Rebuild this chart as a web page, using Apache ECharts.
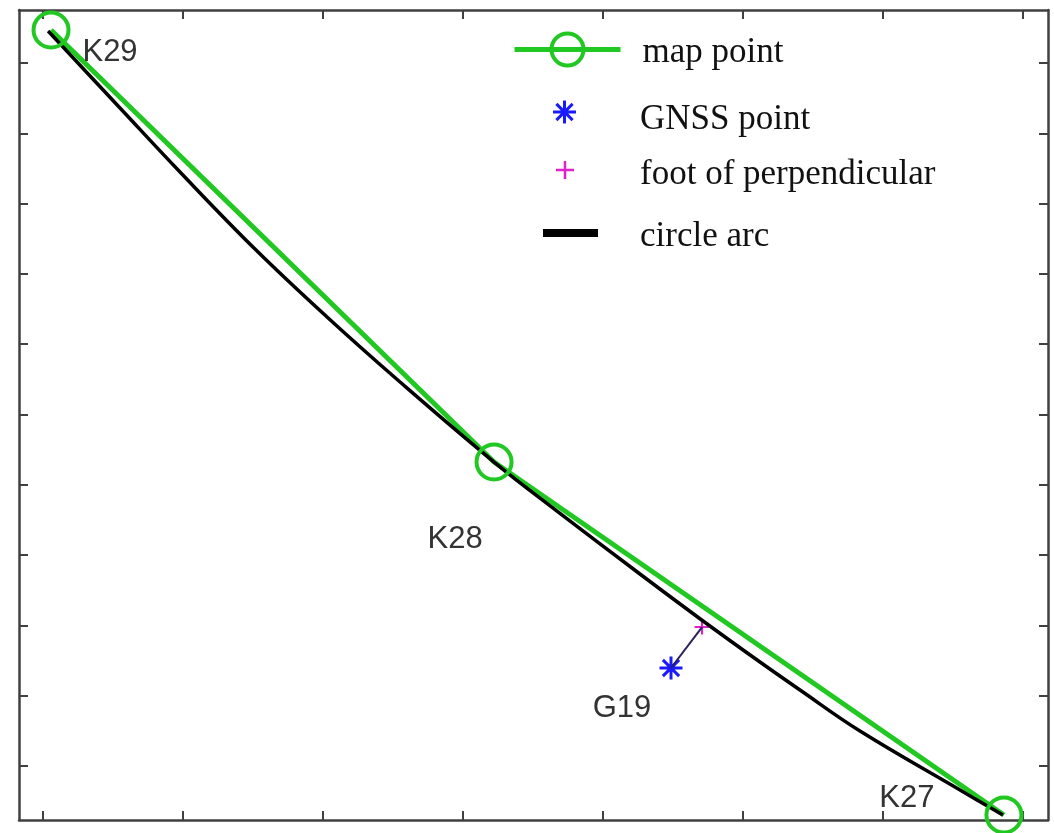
<!DOCTYPE html>
<html><head><meta charset="utf-8">
<script src="https://cdn.jsdelivr.net/npm/echarts@6/dist/echarts.min.js"></script>
<style>html,body{margin:0;padding:0;background:#fff}#c{width:1054px;height:833px}</style>
</head><body><div id="c"></div>
<script>
// ---- data ----
const mapNames = ['K29', 'K28', 'K27'];
const mapX = [0.057, 3.224, 6.869];
const mapY = [10.469, 4.324, -0.697];

const arcX = [0.036, 0.550, 0.979, 1.515, 2.030, 2.552, 3.224, 3.674, 4.267, 4.718, 5.125, 5.411, 5.840, 6.555, 6.862];
const arcY = [10.455, 9.360, 8.449, 7.354, 6.387, 5.462, 4.324, 3.627, 2.731, 2.063, 1.479, 1.081, 0.498, -0.341, -0.697];

const gnssNames = ['G19'];
const gnssX = [4.489];
const gnssY = [1.394];

const footX = [4.711];
const footY = [1.977];

const xTicks = [0, 1, 2, 3, 4, 5, 6, 7];
const yTicks = [0, 1, 2, 3, 4, 5, 6, 7, 8, 9, 10];

// ---- styling / layout ----
const STAR = 'path://M -1 -0.13 L 1 -0.13 L 1 0.13 L -1 0.13 Z M -0.13 -1 L 0.13 -1 L 0.13 1 L -0.13 1 Z M -0.615 -0.799 L 0.799 0.615 L 0.615 0.799 L -0.799 -0.615 Z M -0.799 0.615 L 0.615 -0.799 L 0.799 -0.615 L -0.615 0.799 Z';
const PLUS = 'path://M -1 -0.14 L 1 -0.14 L 1 0.14 L -1 0.14 Z M -0.14 -1 L 0.14 -1 L 0.14 1 L -0.14 1 Z';
const GREEN = '#22c822';
const mapLabelOffsets = [[59, 22], [-39, 77], [-97, -17]];
const gnssLabelOffsets = [[-49, 40]];
const labelFont = { fontFamily: 'Liberation Sans', fontSize: 31, color: '#333' };
const legendFont = { fontFamily: 'Liberation Serif', fontSize: 35, color: '#111' };

function legendText(padTop, padLeft) {
  return {
    fontFamily: legendFont.fontFamily, fontSize: legendFont.fontSize, color: legendFont.color,
    rich: { t: Object.assign({ padding: [padTop, 0, 0, padLeft] }, legendFont) }
  };
}
function legendFmt(name) { return '{t|' + name + '}'; }

function axis(pos, min, max, ticks) {
  return {
    type: 'value', position: pos, min: min, max: max,
    axisLine: { show: true, onZero: false, lineStyle: { color: '#404040', width: 2.5 } },
    axisTick: { show: true, inside: true, length: 9, lineStyle: { color: '#404040', width: 2 }, customValues: ticks },
    axisLabel: { show: false },
    splitLine: { show: false }
  };
}
const X_MIN = -0.172, X_MAX = 7.184, Y_MIN = -0.768, Y_MAX = 10.754;

const chart = echarts.init(document.getElementById('c'), null, { renderer: 'canvas' });
chart.setOption({
  animation: false,
  backgroundColor: '#fff',
  grid: { left: 19, right: 6, top: 10, bottom: 13 },
  xAxis: [axis('bottom', X_MIN, X_MAX, xTicks), axis('top', X_MIN, X_MAX, xTicks)],
  yAxis: [axis('left', Y_MIN, Y_MAX, yTicks), axis('right', Y_MIN, Y_MAX, yTicks)],
  legend: [
    { data: ['map point'], left: 512, top: 31.5, padding: 0, itemWidth: 106, itemHeight: 40, selectedMode: false,
      formatter: legendFmt, textStyle: legendText(6, 17),
      itemStyle: { borderWidth: 4 }, lineStyle: { width: 5 } },
    { data: [{ name: 'GNSS point', icon: STAR }], left: 553, top: 100.5, padding: 0, itemWidth: 23, itemHeight: 23, selectedMode: false,
      formatter: legendFmt, textStyle: legendText(16, 59), itemStyle: { borderWidth: 0 } },
    { data: [{ name: 'foot of perpendicular', icon: PLUS }], left: 556, top: 157.5, padding: 0, itemWidth: 18, itemHeight: 18, selectedMode: false,
      formatter: legendFmt, textStyle: legendText(10, 61), itemStyle: { borderWidth: 0 } },
    { data: [{ name: 'circle arc', icon: 'rect' }], left: 543, top: 219.5, padding: 0, itemWidth: 55, itemHeight: 8, selectedMode: false,
      formatter: legendFmt, textStyle: legendText(8, 37), itemStyle: { borderWidth: 0 } }
  ],
  series: [
    {
      name: 'map point', type: 'line', silent: true,
      data: mapX.map((x, i) => ({ name: mapNames[i], value: [x, mapY[i]], label: { offset: mapLabelOffsets[i] } })),
      symbol: 'circle', symbolSize: 35,
      itemStyle: { color: 'rgba(0,0,0,0)', borderColor: GREEN, borderWidth: 4 },
      lineStyle: { color: GREEN, width: 5 },
      label: Object.assign({ show: true, position: 'inside', formatter: '{b}' }, labelFont),
      emphasis: { disabled: true }
    },
    {
      name: 'circle arc', type: 'line', silent: true, smooth: 0.4,
      data: arcX.map((x, i) => [x, arcY[i]]),
      symbol: 'none', itemStyle: { color: '#000' },
      lineStyle: { color: '#000', width: 3.5 },
      emphasis: { disabled: true }
    },
    {
      name: 'perpendicular', type: 'line', silent: true,
      data: [[gnssX[0], gnssY[0]], [footX[0], footY[0]]],
      symbol: 'none', lineStyle: { color: '#2a2060', width: 2 }, itemStyle: { color: '#2a2060' },
      emphasis: { disabled: true }
    },
    {
      name: 'foot of perpendicular', type: 'scatter', silent: true,
      data: footX.map((x, i) => [x, footY[i]]),
      symbol: PLUS, symbolSize: 15, itemStyle: { color: '#e020c8', opacity: 1 },
      emphasis: { disabled: true }
    },
    {
      name: 'GNSS point', type: 'scatter', silent: true,
      data: gnssX.map((x, i) => ({ name: gnssNames[i], value: [x, gnssY[i]], label: { offset: gnssLabelOffsets[i] } })),
      symbol: STAR, symbolSize: 23, itemStyle: { color: '#1a1aff', opacity: 1 },
      label: Object.assign({ show: true, position: 'inside', formatter: '{b}' }, labelFont),
      emphasis: { disabled: true }
    }
  ]
});
</script></body></html>
